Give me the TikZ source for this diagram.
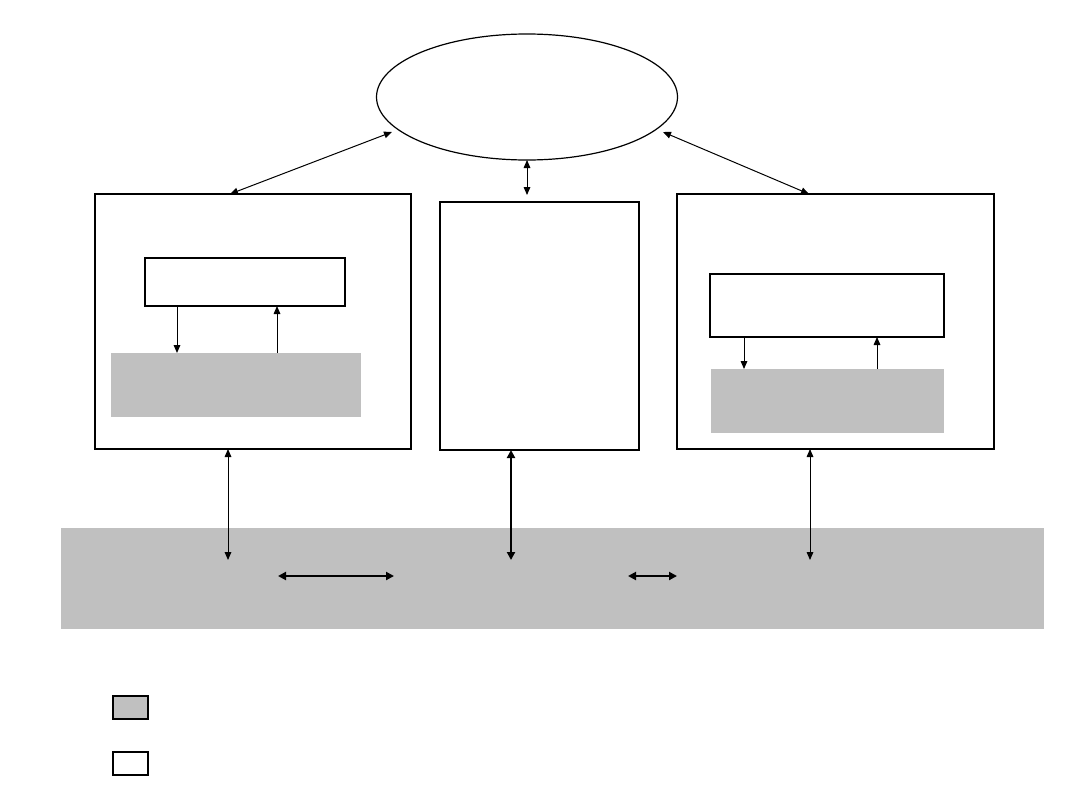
\documentclass[tikz,border=0pt]{standalone}
\usetikzlibrary{arrows.meta,shapes.geometric}
\definecolor{boxgray}{HTML}{C0C0C0}
\begin{document}
\begin{tikzpicture}[x=0.75pt,y=-0.75pt,
  box/.style={draw=black,line width=0.9pt},
  graybox/.style={fill=boxgray,draw=none},
  conn/.style={line width=0.75pt,{Triangle[length=6pt,width=5pt]}-{Triangle[length=6pt,width=5pt]}},
  thick conn/.style={line width=1.5pt,{Triangle[length=6pt,width=6pt]}-{Triangle[length=6pt,width=6pt]}},
  single/.style={line width=0.75pt,-{Triangle[length=6pt,width=5pt]}}]
\useasboundingbox (0,0) rectangle (1080,810);
% ellipse
\node[ellipse,draw,line width=0.9pt,minimum width=301*0.75pt,minimum height=126*0.75pt,inner sep=0] (ell) at (527,97) {};
% band
\node[graybox,minimum width=983*0.75pt,minimum height=101*0.75pt,inner sep=0,anchor=north west] (band) at (61,528) {};
% left box
\draw[box] (95,194) rectangle (411,449);
\coordinate (lt) at (230,194);
\coordinate (lb) at (228,449);
\draw[box] (145,258) rectangle (345,306);
\fill[boxgray] (111,353) rectangle (361,417);
\coordinate (la1) at (177,306); \coordinate (la2) at (177,353);
\coordinate (lb1) at (277,353); \coordinate (lb2) at (277,306);
\draw[single] (la1) -- (la2);
\draw[single] (lb1) -- (lb2);
% middle box
\draw[box] (440,202) rectangle (639,450);
\coordinate (mt) at (527,195);
\coordinate (mb) at (511,450);
% right box
\draw[box] (677,194) rectangle (994,449);
\coordinate (rt) at (809,194);
\coordinate (rb) at (810,449);
\draw[box] (710,274) rectangle (944,337);
\fill[boxgray] (711,369) rectangle (944,433);
\coordinate (ra1) at (744,337); \coordinate (ra2) at (744,369);
\coordinate (rb1) at (877,369); \coordinate (rb2) at (877,337);
\draw[single] (ra1) -- (ra2);
\draw[single] (rb1) -- (rb2);
% connectors to ellipse
\coordinate (el) at (392,132);
\coordinate (er) at (663,132);
\coordinate (em) at (527,160);
\draw[conn] (lt) -- (el);
\draw[conn] (rt) -- (er);
\draw[conn] (em) -- (mt);
% connectors to band
\coordinate (b1) at (228,560);
\coordinate (b2) at (511,560);
\coordinate (b3) at (810,560);
\draw[conn] (lb) -- (b1);
\draw[thick conn] (mb) -- (b2);
\draw[conn] (rb) -- (b3);
% horizontal arrows
\coordinate (h1) at (278,576); \coordinate (h2) at (394,576);
\coordinate (h3) at (628,576); \coordinate (h4) at (677,576);
\draw[thick conn] (h1) -- (h2);
\draw[thick conn] (h3) -- (h4);
% legend
\draw[box,fill=boxgray] (113,696) rectangle (148,719);
\draw[box] (113,752) rectangle (148,775);
\end{tikzpicture}
\end{document}
